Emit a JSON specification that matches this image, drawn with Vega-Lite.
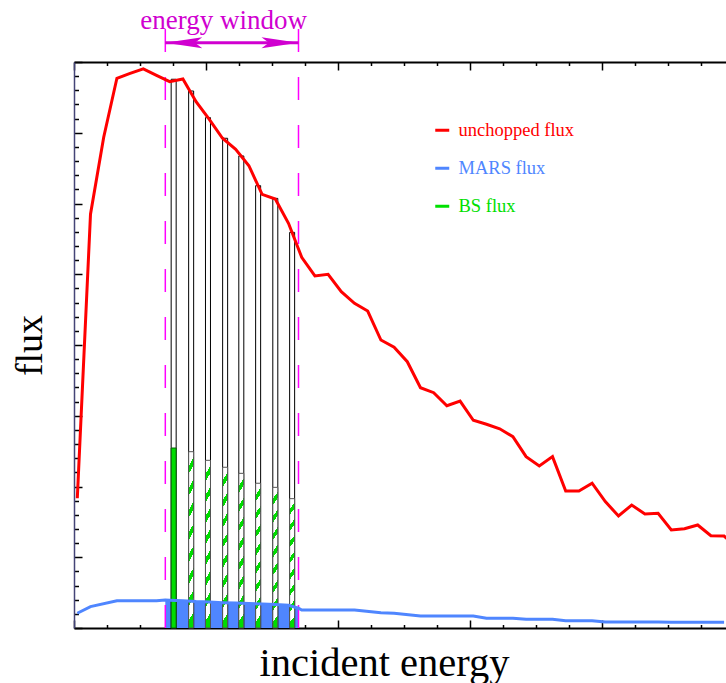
{
  "$schema": "https://vega.github.io/schema/vega-lite/v6.json",
  "width": 652,
  "height": 566,
  "autosize": {"type": "none"},
  "padding": {"left": 74, "top": 62, "right": 0, "bottom": 55},
  "background": "white",
  "config": {"view": {"stroke": null}, "font": "Liberation Serif", "scale": {"continuousPadding": 0}},
  "datasets": {
    "flux": [
      {"series": "unchopped flux", "e": 0.1, "v": 9.17},
      {"series": "unchopped flux", "e": 0.5, "v": 29.24},
      {"series": "unchopped flux", "e": 0.9, "v": 34.68},
      {"series": "unchopped flux", "e": 1.3, "v": 38.85},
      {"series": "unchopped flux", "e": 1.7, "v": 39.19},
      {"series": "unchopped flux", "e": 2.1, "v": 39.51},
      {"series": "unchopped flux", "e": 2.5, "v": 39.06},
      {"series": "unchopped flux", "e": 2.9, "v": 38.61},
      {"series": "unchopped flux", "e": 3.3, "v": 38.8},
      {"series": "unchopped flux", "e": 3.7, "v": 37.19},
      {"series": "unchopped flux", "e": 4.1, "v": 35.95},
      {"series": "unchopped flux", "e": 4.5, "v": 34.61},
      {"series": "unchopped flux", "e": 4.9, "v": 33.83},
      {"series": "unchopped flux", "e": 5.3, "v": 32.67},
      {"series": "unchopped flux", "e": 5.7, "v": 30.65},
      {"series": "unchopped flux", "e": 6.1, "v": 30.32},
      {"series": "unchopped flux", "e": 6.5, "v": 28.6},
      {"series": "unchopped flux", "e": 6.9, "v": 26.2},
      {"series": "unchopped flux", "e": 7.3, "v": 24.88},
      {"series": "unchopped flux", "e": 7.7, "v": 25.0},
      {"series": "unchopped flux", "e": 8.1, "v": 23.77},
      {"series": "unchopped flux", "e": 8.5, "v": 22.95},
      {"series": "unchopped flux", "e": 8.9, "v": 22.4},
      {"series": "unchopped flux", "e": 9.3, "v": 20.35},
      {"series": "unchopped flux", "e": 9.7, "v": 19.84},
      {"series": "unchopped flux", "e": 10.1, "v": 18.82},
      {"series": "unchopped flux", "e": 10.5, "v": 16.98},
      {"series": "unchopped flux", "e": 10.9, "v": 16.63},
      {"series": "unchopped flux", "e": 11.3, "v": 15.71},
      {"series": "unchopped flux", "e": 11.7, "v": 16.04},
      {"series": "unchopped flux", "e": 12.1, "v": 14.68},
      {"series": "unchopped flux", "e": 12.5, "v": 14.4},
      {"series": "unchopped flux", "e": 12.9, "v": 14.08},
      {"series": "unchopped flux", "e": 13.3, "v": 13.52},
      {"series": "unchopped flux", "e": 13.7, "v": 12.11},
      {"series": "unchopped flux", "e": 14.1, "v": 11.45},
      {"series": "unchopped flux", "e": 14.5, "v": 12.11},
      {"series": "unchopped flux", "e": 14.9, "v": 9.68},
      {"series": "unchopped flux", "e": 15.3, "v": 9.68},
      {"series": "unchopped flux", "e": 15.7, "v": 10.23},
      {"series": "unchopped flux", "e": 16.1, "v": 8.93},
      {"series": "unchopped flux", "e": 16.5, "v": 7.92},
      {"series": "unchopped flux", "e": 16.9, "v": 8.69},
      {"series": "unchopped flux", "e": 17.3, "v": 8.06},
      {"series": "unchopped flux", "e": 17.7, "v": 8.11},
      {"series": "unchopped flux", "e": 18.1, "v": 6.93},
      {"series": "unchopped flux", "e": 18.5, "v": 7.02},
      {"series": "unchopped flux", "e": 18.9, "v": 7.28},
      {"series": "unchopped flux", "e": 19.3, "v": 6.52},
      {"series": "unchopped flux", "e": 19.7, "v": 6.5},
      {"series": "unchopped flux", "e": 20.1, "v": 5.65},
      {"series": "MARS flux", "e": 0.1, "v": 1.04},
      {"series": "MARS flux", "e": 0.5, "v": 1.51},
      {"series": "MARS flux", "e": 1.3, "v": 1.93},
      {"series": "MARS flux", "e": 2.5, "v": 1.93},
      {"series": "MARS flux", "e": 2.767, "v": 1.97},
      {"series": "MARS flux", "e": 2.9, "v": 1.96},
      {"series": "MARS flux", "e": 3.3, "v": 1.93},
      {"series": "MARS flux", "e": 3.7, "v": 1.87},
      {"series": "MARS flux", "e": 4.1, "v": 1.84},
      {"series": "MARS flux", "e": 4.5, "v": 1.79},
      {"series": "MARS flux", "e": 4.9, "v": 1.76},
      {"series": "MARS flux", "e": 5.3, "v": 1.73},
      {"series": "MARS flux", "e": 5.7, "v": 1.7},
      {"series": "MARS flux", "e": 6.1, "v": 1.66},
      {"series": "MARS flux", "e": 6.5, "v": 1.6},
      {"series": "MARS flux", "e": 6.803, "v": 1.4},
      {"series": "MARS flux", "e": 6.9, "v": 1.27},
      {"series": "MARS flux", "e": 8.5, "v": 1.27},
      {"series": "MARS flux", "e": 9.3, "v": 1.08},
      {"series": "MARS flux", "e": 9.7, "v": 1.04},
      {"series": "MARS flux", "e": 10.5, "v": 0.85},
      {"series": "MARS flux", "e": 12.1, "v": 0.85},
      {"series": "MARS flux", "e": 12.5, "v": 0.69},
      {"series": "MARS flux", "e": 13.3, "v": 0.69},
      {"series": "MARS flux", "e": 13.7, "v": 0.61},
      {"series": "MARS flux", "e": 14.5, "v": 0.61},
      {"series": "MARS flux", "e": 14.9, "v": 0.52},
      {"series": "MARS flux", "e": 15.7, "v": 0.52},
      {"series": "MARS flux", "e": 16.1, "v": 0.42},
      {"series": "MARS flux", "e": 17.7, "v": 0.42},
      {"series": "MARS flux", "e": 18.1, "v": 0.4},
      {"series": "MARS flux", "e": 19.7, "v": 0.4}
    ],
    "bars": [
      {"e": 3.02, "total": 38.78, "bs": 12.72, "kind": "solid"},
      {"e": 3.55, "total": 37.95, "bs": 12.46, "kind": "hatched"},
      {"e": 4.06, "total": 36.07, "bs": 11.85, "kind": "hatched"},
      {"e": 4.58, "total": 34.61, "bs": 11.36, "kind": "hatched"},
      {"e": 5.07, "total": 33.36, "bs": 10.93, "kind": "hatched"},
      {"e": 5.58, "total": 31.26, "bs": 10.23, "kind": "hatched"},
      {"e": 6.1, "total": 30.36, "bs": 9.94, "kind": "hatched"},
      {"e": 6.61, "total": 27.96, "bs": 9.14, "kind": "hatched"}
    ],
    "window": [{"lo": 2.767, "hi": 6.803, "label": "energy window"}]
  },
  "resolve": {"axis": {"x": "independent", "y": "independent"}},
  "layer": [
    {
      "data": {"name": "flux"},
      "transform": [{"filter": "datum.series === 'MARS flux' && datum.e >= 2.767 && datum.e <= 6.803"}],
      "mark": {"type": "area", "color": "#4f86ff", "opacity": 1},
      "encoding": {
        "x": {
          "field": "e", "type": "quantitative",
          "scale": {"domain": [0, 19.7576], "nice": false, "zero": false, "padding": 0},
          "axis": {
            "orient": "bottom", "title": "incident energy", "labels": false,
            "values": [0,1,2,3,4,5,6,7,8,9,10,11,12,13,14,15,16,17,18,19],
            "domainColor": "black", "domainWidth": 2,
            "tickColor": "black", "tickWidth": 1.5,
            "tickSize": {"condition": {"test": "datum.value % 4 === 0", "value": -8}, "value": -3.5},
            "grid": false,
            "titleFont": "Liberation Serif", "titleFontSize": 40.5, "titleFontWeight": "normal", "titleColor": "black",
            "titleX": 310, "titleY": 47, "titleAlign": "center", "titleBaseline": "alphabetic"
          }
        },
        "y": {
          "field": "v", "type": "quantitative",
          "scale": {"domain": [0, 40], "nice": false, "zero": false, "padding": 0},
          "axis": {
            "orient": "left", "title": "flux", "labels": false,
            "values": [0,1,2,3,4,5,6,7,8,9,10,11,12,13,14,15,16,17,18,19,20,21,22,23,24,25,26,27,28,29,30,31,32,33,34,35,36,37,38,39,40],
            "domainColor": "#444477", "domainWidth": 1.5,
            "tickColor": "black", "tickWidth": 1.5,
            "tickSize": {"condition": {"test": "datum.value % 5 === 0", "value": -8}, "value": -4.5},
            "grid": false,
            "titleFont": "Liberation Serif", "titleFontSize": 38, "titleFontWeight": "normal", "titleColor": "black",
            "titleAngle": -90, "titleX": -33, "titleY": 283, "titleAlign": "center", "titleBaseline": "alphabetic"
          }
        }
      }
    },
    {
      "data": {"name": "bars"},
      "mark": {"type": "bar", "orient": "vertical", "size": 5, "fill": "white", "stroke": "black", "strokeWidth": 1},
      "encoding": {
        "x": {"field": "e", "type": "quantitative", "scale": {"domain": [0, 19.7576], "nice": false, "zero": false, "padding": 0}, "axis": null},
        "y": {"field": "total", "type": "quantitative", "stack": null, "scale": {"domain": [0, 40], "nice": false, "zero": false, "padding": 0}, "axis": null}
      }
    },
    {
      "data": {"name": "bars"},
      "transform": [{"filter": "datum.kind === 'solid'"}],
      "mark": {"type": "bar", "orient": "vertical", "size": 5, "fill": "#00dd00", "stroke": "#0b5e0b", "strokeWidth": 1},
      "encoding": {
        "x": {"field": "e", "type": "quantitative", "scale": {"domain": [0, 19.7576], "nice": false, "zero": false, "padding": 0}, "axis": null},
        "y": {"field": "bs", "type": "quantitative", "stack": null, "scale": {"domain": [0, 40], "nice": false, "zero": false, "padding": 0}, "axis": null}
      }
    },
    {
      "data": {"name": "bars"},
      "transform": [{"filter": "datum.kind === 'hatched'"}],
      "mark": {
        "type": "bar", "orient": "vertical", "size": 5, "stroke": "#555555", "strokeWidth": 1,
        "fill": {
          "gradient": "linear", "x1": 0, "y1": 0, "x2": 0.05, "y2": 1,
          "stops": [
            {"offset": 0, "color": "white"}, {"offset": 0.081, "color": "white"},
            {"offset": 0.081, "color": "#00dd00"}, {"offset": 0.125, "color": "#00dd00"},
            {"offset": 0.125, "color": "white"}, {"offset": 0.206, "color": "white"},
            {"offset": 0.206, "color": "#00dd00"}, {"offset": 0.25, "color": "#00dd00"},
            {"offset": 0.25, "color": "white"}, {"offset": 0.331, "color": "white"},
            {"offset": 0.331, "color": "#00dd00"}, {"offset": 0.375, "color": "#00dd00"},
            {"offset": 0.375, "color": "white"}, {"offset": 0.456, "color": "white"},
            {"offset": 0.456, "color": "#00dd00"}, {"offset": 0.5, "color": "#00dd00"},
            {"offset": 0.5, "color": "white"}, {"offset": 0.581, "color": "white"},
            {"offset": 0.581, "color": "#00dd00"}, {"offset": 0.625, "color": "#00dd00"},
            {"offset": 0.625, "color": "white"}, {"offset": 0.706, "color": "white"},
            {"offset": 0.706, "color": "#00dd00"}, {"offset": 0.75, "color": "#00dd00"},
            {"offset": 0.75, "color": "white"}, {"offset": 0.831, "color": "white"},
            {"offset": 0.831, "color": "#00dd00"}, {"offset": 0.875, "color": "#00dd00"},
            {"offset": 0.875, "color": "white"}, {"offset": 0.956, "color": "white"},
            {"offset": 0.956, "color": "#00dd00"}, {"offset": 1, "color": "#00dd00"}
          ]
        }
      },
      "encoding": {
        "x": {"field": "e", "type": "quantitative", "scale": {"domain": [0, 19.7576], "nice": false, "zero": false, "padding": 0}, "axis": null},
        "y": {"field": "bs", "type": "quantitative", "stack": null, "scale": {"domain": [0, 40], "nice": false, "zero": false, "padding": 0}, "axis": null}
      }
    },
    {
      "data": {"name": "window"},
      "transform": [{"fold": ["lo", "hi"], "as": ["edge", "e"]}],
      "mark": {"type": "rule", "color": "#ff00ff", "strokeWidth": 1.5, "strokeDash": [23, 25], "clip": false},
      "encoding": {
        "x": {
          "field": "e", "type": "quantitative",
          "scale": {"domain": [0, 19.7576], "nice": false, "zero": false, "padding": 0},
          "axis": {
            "orient": "top", "title": null, "labels": false,
            "values": [0,1,2,3,4,5,6,7,8,9,10,11,12,13,14,15,16,17,18,19],
            "domainColor": "black", "domainWidth": 2,
            "tickColor": "black", "tickWidth": 1.5,
            "tickSize": {"condition": {"test": "datum.value % 4 === 0", "value": -8}, "value": -3.5},
            "grid": false
          }
        },
        "y": {"datum": 42.33, "type": "quantitative", "scale": {"domain": [0, 40], "nice": false, "zero": false, "padding": 0}, "axis": null},
        "y2": {"datum": 0}
      }
    },
    {
      "data": {"name": "flux"},
      "mark": {"type": "line", "strokeWidth": 3, "clip": true},
      "encoding": {
        "x": {"field": "e", "type": "quantitative", "scale": {"domain": [0, 19.7576], "nice": false, "zero": false, "padding": 0}, "axis": null},
        "y": {"field": "v", "type": "quantitative", "scale": {"domain": [0, 40], "nice": false, "zero": false, "padding": 0}, "axis": null},
        "color": {
          "field": "series", "type": "nominal",
          "scale": {"domain": ["unchopped flux", "MARS flux", "BS flux"], "range": ["#ff0000", "#4f86ff", "#00e000"]},
          "legend": {
            "orient": "none", "legendX": 359, "legendY": 59, "title": null,
            "symbolType": "stroke", "symbolSize": 196, "symbolStrokeWidth": 3,
            "labelFont": "Liberation Serif", "labelFontSize": 18.5, "labelOffset": 7,
            "rowPadding": 19, "padding": 0,
            "labelColor": {"expr": "scale('color', datum.value)"}
          }
        }
      }
    },
    {
      "data": {"name": "window"},
      "mark": {"type": "rule", "color": "#d000d0", "strokeWidth": 3, "clip": false},
      "encoding": {
        "x": {"field": "lo", "type": "quantitative", "scale": {"domain": [0, 19.7576], "nice": false, "zero": false, "padding": 0}, "axis": null},
        "x2": {"field": "hi"},
        "y": {"datum": 41.36, "type": "quantitative", "scale": {"domain": [0, 40], "nice": false, "zero": false, "padding": 0}, "axis": null}
      }
    },
    {
      "data": {"name": "window"},
      "transform": [{"fold": ["lo", "hi"], "as": ["edge", "e"]}],
      "mark": {"type": "point", "filled": true, "size": 1369, "color": "#d000d0", "opacity": 1, "strokeWidth": 0, "clip": false},
      "encoding": {
        "x": {"field": "e", "type": "quantitative", "scale": {"domain": [0, 19.7576], "nice": false, "zero": false, "padding": 0}, "axis": null},
        "y": {"datum": 41.36, "type": "quantitative", "scale": {"domain": [0, 40], "nice": false, "zero": false, "padding": 0}, "axis": null},
        "shape": {
          "field": "edge", "type": "nominal",
          "scale": {"domain": ["lo", "hi"], "range": ["M0,0L2,-0.3L1.6,0L2,0.3Z", "M0,0L-2,-0.3L-1.6,0L-2,0.3Z"]},
          "legend": null
        }
      }
    },
    {
      "data": {"name": "window"},
      "mark": {"type": "text", "color": "#d000d0", "font": "Liberation Serif", "fontSize": 27, "align": "left", "baseline": "alphabetic", "dx": -25, "clip": false},
      "encoding": {
        "x": {"field": "lo", "type": "quantitative", "scale": {"domain": [0, 19.7576], "nice": false, "zero": false, "padding": 0}, "axis": null},
        "y": {"datum": 42.33, "type": "quantitative", "scale": {"domain": [0, 40], "nice": false, "zero": false, "padding": 0}, "axis": null},
        "text": {"field": "label"}
      }
    }
  ]
}
